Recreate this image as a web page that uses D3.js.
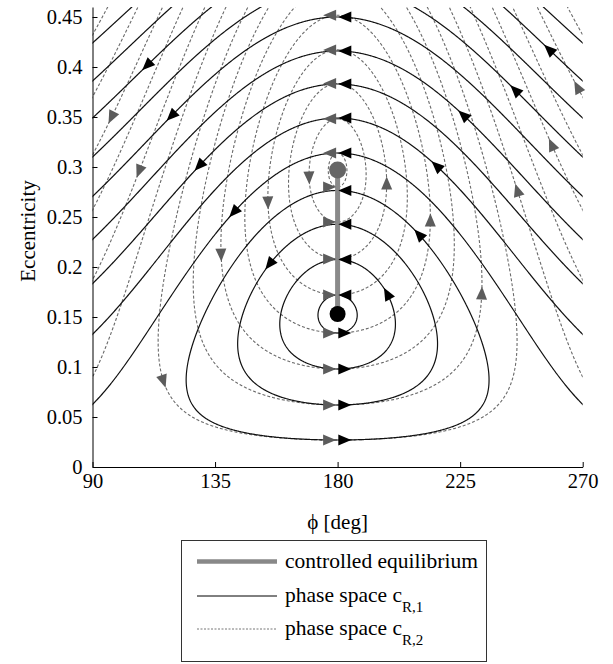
<!DOCTYPE html>
<html>
<head>
<meta charset="utf-8">
<script src="https://cdn.jsdelivr.net/npm/d3@7"></script>
<style>
  body { margin: 0; background: #fff; }
</style>
</head>
<body>
<svg id="chart" width="613" height="664"></svg>
<script>
// eccentricity where each curve crosses phi = 180 deg
var solidLevels = [0.027, 0.062, 0.098, 0.134, 0.314, 0.349, 0.383, 0.416, 0.450];
var dashedLevels = [0.027, 0.062, 0.098, 0.134, 0.172, 0.208, 0.245, 0.280];
// outer curves, read where they hit the phi = 90 edge
var solidEdgeLevels = [0.310, 0.349, 0.386, 0.424, 0.462];
var dashedEdgeLevels = [0.090, 0.187, 0.257, 0.312, 0.370, 0.432];
// equilibria (black = c_R,1, grey = c_R,2)
var eqSolid = 0.153, eqDashed = 0.297;
// arrow heads on the phi = 180 line
var axisCrossings = [0.027, 0.062, 0.098, 0.134, 0.172, 0.208, 0.245, 0.280, 0.314, 0.349, 0.383, 0.416, 0.450];
// other arrow heads [phi, e]
var solidArrows = [[110.4,0.400],[119.2,0.350],[128.7,0.302],[141.6,0.255],[155.2,0.202],
                   [198.5,0.174],[210.3,0.234],[216.5,0.302],[226.0,0.352],[245.1,0.377],[257.3,0.417]];
var dashedArrows = [[96.5,0.350],[107.4,0.295],[169.1,0.289],[154.4,0.264],[137.9,0.212],[115.5,0.085],
                    [198.1,0.284],[213.2,0.247],[233.0,0.174],[245.9,0.277],[258.0,0.322],[267.9,0.380]];
var xTicks = [90, 135, 180, 225, 270];
var yTicks = [0, 0.05, 0.1, 0.15, 0.2, 0.25, 0.3, 0.35, 0.4, 0.45];
var legendItems = ["controlled equilibrium", "phase space c", "phase space c"];
var legendSubs = ["", "R,1", "R,2"];

var FONT = "'Liberation Serif'";
var svg = d3.select("#chart");
var x = d3.scaleLinear().domain([90, 270]).range([92.5, 582.7]);
var y = d3.scaleLinear().domain([0, 0.46]).range([467, 7]);

function ham(e, phi, eq) {
  var s = eq / Math.sqrt(1 - eq * eq);
  return 1 - Math.sqrt(1 - e * e) + s * e * Math.cos(phi * Math.PI / 180);
}

// grid for the contours
var phi0 = 85, dphi = 0.25, nx = 761;
var e0 = -0.04, de = 0.001, ny = 541;
function gridValues(eq) {
  var v = new Float64Array(nx * ny);
  for (var j = 0; j < ny; j++)
    for (var i = 0; i < nx; i++)
      v[j * nx + i] = ham(e0 + j * de, phi0 + i * dphi, eq);
  return v;
}
var proj = d3.geoTransform({
  point: function(cx, cy) {
    this.stream.point(x(phi0 + (cx - 0.5) * dphi), y(e0 + (cy - 0.5) * de));
  }
});
var path = d3.geoPath(proj);

svg.append("defs").append("clipPath").attr("id", "plotclip")
  .append("rect").attr("x", x(90)).attr("y", y(0.46))
  .attr("width", x(270) - x(90)).attr("height", y(0) - y(0.46));

var plot = svg.append("g").attr("clip-path", "url(#plotclip)");

function hLevels(levels, edge, eq) {
  return levels.map(function(e){ return ham(e, 180, eq); })
    .concat(edge.map(function(e){ return ham(e, 90, eq); }))
    .sort(d3.ascending);
}
var dashedH = hLevels(dashedLevels, dashedEdgeLevels, eqDashed);
var solidH = hLevels(solidLevels, solidEdgeLevels, eqSolid);

plot.append("g").attr("id", "dashedg").selectAll("path")
  .data(d3.contours().size([nx, ny]).thresholds(dashedH)(gridValues(eqDashed)))
  .enter().append("path")
  .attr("d", path)
  .style("fill", "none")
  .style("stroke", "#6a6a6a")
  .style("stroke-width", 1.1)
  .style("stroke-dasharray", "3,2");

plot.append("g").attr("id", "solidg").selectAll("path")
  .data(d3.contours().size([nx, ny]).thresholds(solidH)(gridValues(eqSolid)))
  .enter().append("path")
  .attr("d", path)
  .style("fill", "none")
  .style("stroke", "#111")
  .style("stroke-width", 1.2);

// equilibrium line
svg.append("line")
  .attr("x1", x(180)).attr("x2", x(180))
  .attr("y1", y(eqSolid)).attr("y2", y(eqDashed))
  .style("stroke", "#8a8a8a").style("stroke-width", 5);

// arrow heads: snap onto nearest curve, point along flow
function hPix(u, v, eq) { return ham(y.invert(v), x.invert(u), eq); }
function grad(u, v, eq) {
  var h = 0.02;
  return [(hPix(u + h, v, eq) - hPix(u - h, v, eq)) / (2 * h),
          (hPix(u, v + h, eq) - hPix(u, v - h, eq)) / (2 * h)];
}
function arrowHead(phi, e, eq, levelsH, shift) {
  var u = x(phi), v = y(e);
  var g = grad(u, v, eq), gn = Math.sqrt(g[0] * g[0] + g[1] * g[1]), H = hPix(u, v, eq);
  var best = null, bd = 1e9;
  levelsH.forEach(function(l){
    var dd = Math.abs(H - l) / gn;
    if (dd < bd) { bd = dd; best = l; }
  });
  for (var k = 0; k < 6; k++) {
    H = hPix(u, v, eq);
    g = grad(u, v, eq);
    var g2 = g[0] * g[0] + g[1] * g[1];
    u -= (H - best) * g[0] / g2;
    v -= (H - best) * g[1] / g2;
  }
  g = grad(u, v, eq);
  var n = Math.sqrt(g[0] * g[0] + g[1] * g[1]);
  var dx = g[1] / n, dy = -g[0] / n;   // flow direction in pixels
  u += shift || 0;
  var L = 6.5, W = 5.5;
  return "M" + (u + dx * L) + "," + (v + dy * L)
    + "L" + (u - dx * L - dy * W) + "," + (v - dy * L + dx * W)
    + "L" + (u - dx * L + dy * W) + "," + (v - dy * L - dx * W) + "Z";
}

var dashArr = dashedArrows.map(function(d){ return [d[0], d[1], 0]; })
  .concat(axisCrossings.map(function(e){ return [180, e, -8]; }));
var solidArr = solidArrows.map(function(d){ return [d[0], d[1], 0]; })
  .concat(axisCrossings.map(function(e){ return [180, e, 7.2]; }));

svg.append("g").attr("id", "dasharrows").selectAll("path")
  .data(dashArr).enter().append("path")
  .attr("d", function(d){ return arrowHead(d[0], d[1], eqDashed, dashedH, d[2]); })
  .style("fill", "#5c5c5c");
svg.append("g").attr("id", "solidarrows").selectAll("path")
  .data(solidArr).enter().append("path")
  .attr("d", function(d){ return arrowHead(d[0], d[1], eqSolid, solidH, d[2]); })
  .style("fill", "#000");

svg.append("circle").attr("cx", x(180)).attr("cy", y(eqDashed)).attr("r", 8.5).style("fill", "#666");
svg.append("circle").attr("cx", x(180)).attr("cy", y(eqSolid)).attr("r", 8).style("fill", "#000");

// axes
var fmt = function(d){ return String(+d.toFixed(2)); };
var gy = svg.append("g").attr("transform", "translate(" + x(90) + ",0)")
  .call(d3.axisLeft(y).tickValues(yTicks).tickFormat(fmt).tickSize(-5).tickSizeOuter(0).tickPadding(10));
var gx = svg.append("g").attr("transform", "translate(0," + y(0) + ")")
  .call(d3.axisBottom(x).tickValues(xTicks).tickSize(-5).tickSizeOuter(0).tickPadding(6));
[gx, gy].forEach(function(g){
  g.attr("font-family", null).attr("font-size", null);
  g.selectAll("text").style("font-family", FONT).style("font-size", "20.5px").style("fill", "#000");
  g.selectAll("line,path").style("stroke", "#000");
});

svg.append("text").attr("x", x(180)).attr("y", 529).attr("text-anchor", "middle")
  .style("font-family", FONT).style("font-size", "21px").text("\u03D5 [deg]");
svg.append("text").attr("transform", "translate(35,231) rotate(-90)").attr("text-anchor", "middle")
  .style("font-family", FONT).style("font-size", "21px").text("Eccentricity");

// legend
var lg = svg.append("g").attr("id", "legend");
lg.append("rect").attr("x", 181.5).attr("y", 540.5).attr("width", 305).attr("height", 121)
  .style("fill", "#fff").style("stroke", "#333").style("stroke-width", 1);
var rowY = [561.5, 596, 629];
var rowStyle = [
  {stroke: "#888", w: 4.5, dash: null},
  {stroke: "#000", w: 1, dash: null},
  {stroke: "#777", w: 1, dash: "2,1.5"}
];
legendItems.forEach(function(t, i){
  lg.append("line").attr("x1", 197).attr("x2", 277).attr("y1", rowY[i]).attr("y2", rowY[i])
    .style("stroke", rowStyle[i].stroke).style("stroke-width", rowStyle[i].w)
    .style("stroke-dasharray", rowStyle[i].dash);
  var tx = lg.append("text").attr("x", 285).attr("y", rowY[i] + 6)
    .style("font-family", FONT).style("font-size", "21.5px").text(t);
  if (legendSubs[i]) tx.append("tspan").attr("dy", 10).style("font-size", "15px").text(legendSubs[i]);
});
</script>
</body>
</html>
